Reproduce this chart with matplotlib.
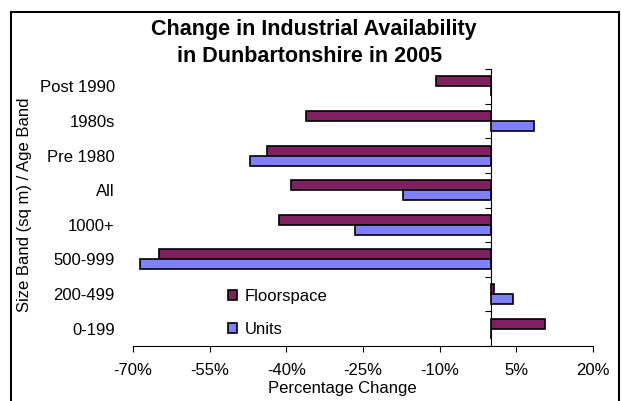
import numpy as np
import matplotlib
matplotlib.use("Agg")
import matplotlib.pyplot as plt
from matplotlib.patches import Patch, Rectangle
from matplotlib.ticker import FuncFormatter

plt.rcParams['font.family'] = ['Liberation Sans', 'DejaVu Sans']

# categories listed top to bottom
bands = ['Post 1990', '1980s', 'Pre 1980', 'All', '1000+', '500-999', '200-499', '0-199']
floorspace = [-10.7, -36.2, -43.8, -39.0, -41.5, -64.9, 0.7, 10.7]
units = [0.0, 8.5, -47.2, -17.1, -26.6, -68.7, 4.4, 0.0]
xticks = [-70, -55, -40, -25, -10, 5, 20]

floor_col = '#802060'
units_col = '#8080FF'

W, H = 621, 401
fig = plt.figure(figsize=(W / 100, H / 100), dpi=100)
ax = fig.add_axes([133 / W, 1 - 346 / H, 460 / W, 277 / H])

y = np.arange(len(bands))
h = 0.29
ax.barh(y - h / 2, floorspace, height=h, color=floor_col, edgecolor='black', linewidth=1.2, label='Floorspace')
ax.barh(y + h / 2, units, height=h, color=units_col, edgecolor='black', linewidth=1.2, label='Units')

ax.set_xlim(-70, 20)
ax.set_ylim(len(bands) - 0.5, -0.5)
ax.set_xticks(xticks)
ax.xaxis.set_major_formatter(FuncFormatter(lambda v, p: '%d%%' % v))
ax.tick_params(axis='x', direction='out', length=4, width=0.8, labelsize=12, pad=8)

ax.set_yticks(y)
ax.set_yticklabels(bands)
ax.tick_params(axis='y', length=0, labelsize=12, pad=13)

for s in ['left', 'right', 'top']:
    ax.spines[s].set_visible(False)
ax.spines['bottom'].set_linewidth(0.8)

# value axis line at zero with ticks between categories
sec = ax.secondary_yaxis(70 / 90)
sec.set_alignment('left')
sec.set_yticks(np.arange(len(bands) + 1) - 0.5)
sec.set_yticklabels([])
sec.tick_params(direction='out', length=4, width=0.8)
sec.spines['left'].set_linewidth(0.8)

handles = [Patch(facecolor=floor_col, edgecolor='black', linewidth=1.2),
           Patch(facecolor=units_col, edgecolor='black', linewidth=1.2)]
fig.legend(handles, ['Floorspace', 'Units'], loc='upper left',
           bbox_to_anchor=(228 / W, 1 - 289 / H), frameon=False, fontsize=12,
           handlelength=0.55, handleheight=0.55, handletextpad=0.45,
           labelspacing=1.05, borderpad=0, borderaxespad=0)

fig.text(314 / W, 1 - 30 / H, 'Change in Industrial Availability', ha='center', va='center',
         fontsize=15.5, fontweight='bold')
fig.text(310 / W, 1 - 57 / H, 'in Dunbartonshire in 2005', ha='center', va='center',
         fontsize=15.5, fontweight='bold')
fig.text(342 / W, 1 - 389 / H, 'Percentage Change', ha='center', va='center', fontsize=12)
fig.text(25 / W, 1 - 205 / H, 'Size Band (sq m) / Age Band', ha='center', va='center',
         rotation=90, fontsize=12)

# chart border, open at the bottom edge
fig.patches.append(Rectangle((11 / W, -0.1), 608 / W, (H - 12) / H + 0.1, transform=fig.transFigure,
                             fill=False, edgecolor='black', linewidth=1.5, clip_on=False))

fig.savefig('out.png', dpi=100)
